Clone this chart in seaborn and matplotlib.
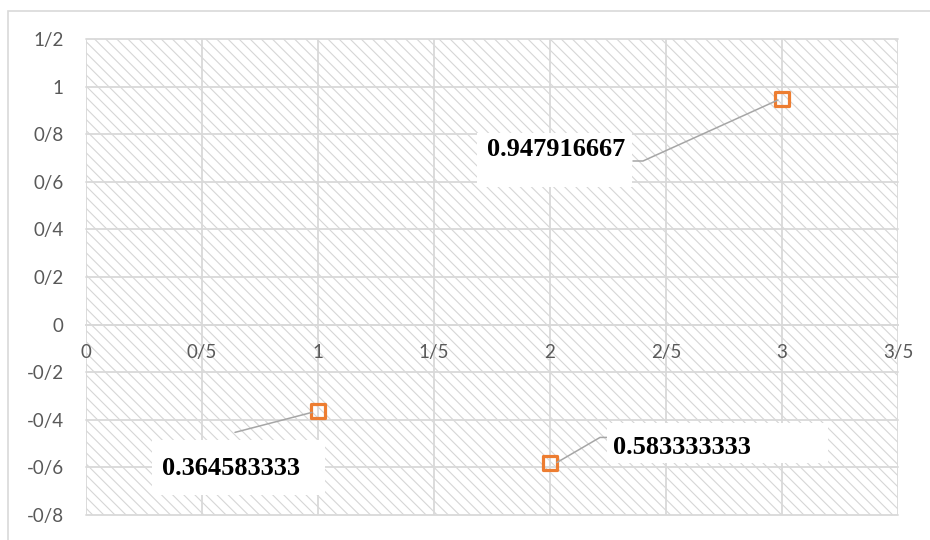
import numpy as np
import pandas as pd
import seaborn as sns
import matplotlib
matplotlib.use("Agg")
import matplotlib.pyplot as plt
from matplotlib.patches import Rectangle
from matplotlib.transforms import Affine2D

# ---- data ----
x_vals = [1, 2, 3]
y_vals = [-0.364583333, -0.583333333, 0.947916667]
x_ticks = [0, 0.5, 1, 1.5, 2, 2.5, 3, 3.5]
y_ticks = [-0.8, -0.6, -0.4, -0.2, 0, 0.2, 0.4, 0.6, 0.8, 1.0, 1.2]

df = pd.DataFrame({"x": x_vals, "y": y_vals})

sns.set_theme(style="white")
plt.rcParams["font.family"] = ["Lato", "DejaVu Sans"]
plt.rcParams["hatch.linewidth"] = 0.8

GRID = "#d9d9d9"
TICK = "#595959"
ORANGE = "#ED7D31"

W, H = 930, 540
fig = plt.figure(figsize=(W / 100, H / 100), dpi=100)
fig.patch.set_facecolor("white")

# outer chart frame
fig.patches.append(Rectangle((8 / W, -0.2), 1.2, 1.2 - 11 / H,
                             transform=fig.transFigure, fill=False,
                             edgecolor=GRID, linewidth=1.2, zorder=0))

ax = fig.add_axes([86 / W, 1 - 515 / H, (898 - 86) / W, (515 - 39) / H])
ax.set_facecolor("white")

# hatched plot area
ax.add_patch(Rectangle((0, 0), 1, 1, transform=ax.transAxes, facecolor="white",
                       edgecolor="#d6d6d6", linewidth=0, hatch="\\\\\\", zorder=0.1))

ax.set_xlim(x_ticks[0], x_ticks[-1])
ax.set_ylim(y_ticks[0], y_ticks[-1])
ax.set_xticks(x_ticks)
ax.set_yticks(y_ticks)


def slash_fmt(v):
    s = f"{v:g}"
    return s.replace(".", "/")


ax.set_xticklabels([slash_fmt(v) for v in x_ticks])
ax.set_yticklabels([slash_fmt(v) for v in y_ticks])
ax.grid(True, color=GRID, linewidth=1.3)
ax.set_axisbelow(True)
for g in ax.get_xgridlines() + ax.get_ygridlines():
    g.set_zorder(0.5)
    g.set_clip_on(False)

for side in ["top", "right", "left"]:
    ax.spines[side].set_visible(False)
ax.spines["bottom"].set_position(("data", 0))
ax.spines["bottom"].set_color(GRID)
ax.spines["bottom"].set_linewidth(1.3)
ax.tick_params(axis="x", length=0, pad=14, labelsize=13.5, labelcolor=TICK)
ax.tick_params(axis="y", length=0, pad=16, labelsize=13.5, labelcolor=TICK)

sns.scatterplot(data=df, x="x", y="y", marker="s", s=100, facecolor="none",
                edgecolor=ORANGE, linewidth=2.3, ax=ax, zorder=5, legend=False)
ax.set_xlabel("")
ax.set_ylabel("")

# data-label layout: pixel offsets from each marker (y grows downward)
label_layout = [
    dict(box=(-166, 29, 173, 55), text=(-156, 57), line=[(-83, 21), (-6, 1)]),
    dict(box=(57, -40, 221, 40), text=(63, -16), line=[(7, -1), (50, -26), (57, -26)]),
    dict(box=(-305, 34, 155, 54), text=(-295, 51), line=[(-149, 62), (-139, 62), (-4, 1)]),
]

for xv, yv, lay in zip(x_vals, y_vals, label_layout):
    px, py = ax.transData.transform((xv, yv))
    t = Affine2D().translate(px, py)
    bx, by, bw, bh = lay["box"]
    fig.patches.append(Rectangle((bx, -(by + bh)), bw, bh, transform=t,
                                 facecolor="white", edgecolor="none", zorder=3))
    lx = [p[0] for p in lay["line"]]
    ly = [-p[1] for p in lay["line"]]
    fig.lines.append(plt.Line2D(lx, ly, transform=t, color="#a6a6a6",
                                linewidth=1.1, zorder=2))
    tx, ty = lay["text"]
    fig.text(tx, -ty, f"{abs(yv):.9f}", transform=t, ha="left", va="center",
             fontsize=19, fontweight="bold", color="black",
             family=["Liberation Serif", "DejaVu Serif"], zorder=4)

fig.savefig("out.png", dpi=100)
